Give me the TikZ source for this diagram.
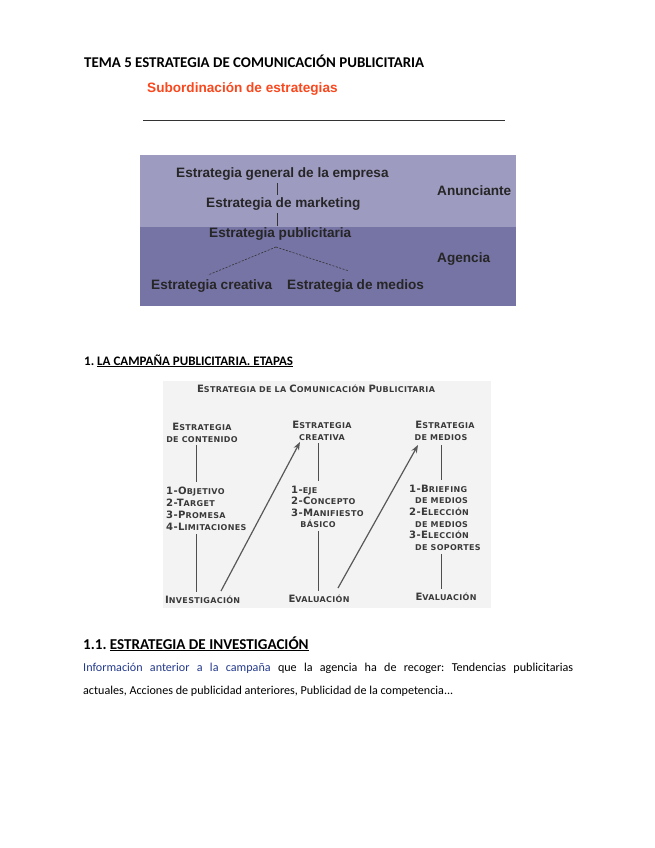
\documentclass[tikz,border=0pt]{standalone}
\usepackage{fontspec}
\setmainfont{Carlito}[BoldFont={Carlito Bold}]
\newfontfamily\arialf{Liberation Sans}[BoldFont={Liberation Sans Bold}]
\newfontfamily\scanf{DejaVu Sans Bold}[LetterSpace=4]
\usetikzlibrary{arrows.meta,calc}
\definecolor{subred}{RGB}{250,72,30}
\definecolor{infoblue}{RGB}{36,58,140}
\definecolor{purpup}{RGB}{158,155,193}
\definecolor{purplow}{RGB}{118,115,165}
\definecolor{scanbg}{RGB}{243,243,243}
\definecolor{scangray}{RGB}{58,58,58}
\newcommand\Lg[1]{{\fontsize{10.1}{11}\selectfont #1}}
\newcommand\Sm[1]{{\fontsize{8}{11}\selectfont #1}}
\frenchspacing
\tikzset{
  doc/.style={inner sep=0pt, anchor=base west},
  boxtxt/.style={inner sep=0pt, anchor=base west, font=\arialf\bfseries\fontsize{13.6}{15}\selectfont, text=black!85},
  scan/.style={inner sep=0pt, anchor=base, font=\scanf, text=scangray},
  scanw/.style={scan, anchor=base west},
  scanline/.style={draw=scangray!90, line width=1pt},
  scanarrow/.style={draw=scangray!85, line width=1.2pt, -{Stealth[length=8pt,width=6pt]}},
  tree/.style={draw=black!80, line width=0.6pt},
  treedash/.style={draw=black!80, line width=0.6pt, dash pattern=on 2pt off 1.5pt}
}
\begin{document}
\begin{tikzpicture}[x=1pt,y=-1pt]
\useasboundingbox[fill=white] (0,0) rectangle (655,848);

% ---- title
\node[doc, font=\bfseries\fontsize{14.9}{17}\selectfont] (title) at (84,68) {TEMA 5 ESTRATEGIA DE COMUNICACIÓN PUBLICITARIA};
\node[doc, font=\arialf\bfseries\fontsize{13.6}{15}\selectfont, text=subred] (sub) at (147,93) {Subordinación de estrategias};
\coordinate (rl) at (143,120);
\coordinate (rr) at (505,120);
\draw[black!80, line width=0.8pt] (rl) -- (rr);

% ---- purple box
\fill[purpup] (140,155) rectangle (516,227);
\fill[purplow] (140,227) rectangle (516,306);
\node[boxtxt] (gen) at (176,177) {Estrategia general de la empresa};
\node[boxtxt] (mkt) at (206,207) {Estrategia de marketing};
\node[boxtxt] (pub) at (209,237) {Estrategia publicitaria};
\node[boxtxt] (anun) at (437,195) {Anunciante};
\node[boxtxt] (agen) at (437,262) {Agencia};
\node[boxtxt] (crea) at (151,289) {Estrategia creativa};
\node[boxtxt] (med) at (287,289) {Estrategia de medios};
\coordinate (vx) at (277,0);
\draw[tree] ([yshift=-3pt]gen.south -| vx) -- ([yshift=2pt]mkt.north -| vx);
\draw[tree] ([yshift=-3pt]mkt.south -| vx) -- ([yshift=1pt]pub.north -| vx);
\coordinate (apex) at (276,247);
\coordinate (crtop) at (208,275);
\coordinate (mdtop) at (349,271);
\draw[treedash] (apex) -- (crtop);
\draw[treedash] (apex) -- (mdtop);

% ---- section 1
\node[doc, font=\bfseries\fontsize{13}{15}\selectfont] (sec1) at (84,365) {1. \underline{LA CAMPAÑA PUBLICITARIA. ETAPAS}};

% ---- scanned diagram
\fill[scanbg] (163,381) rectangle (491,608);
\node[scan] (stit) at (316,392) {\Lg{E}\Sm{STRATEGIA DE LA }\Lg{C}\Sm{OMUNICACIÓN }\Lg{P}\Sm{UBLICITARIA}};

% column 1
\node[scan] (c1a) at (202,430) {\Lg{E}\Sm{STRATEGIA}};
\node[scan] (c1b) at (202,442) {\Sm{DE CONTENIDO}};
\node[scanw] (c1l1) at (166,494) {\Lg{1-O}\Sm{BJETIVO}};
\node[scanw] (c1l2) at (166,506) {\Lg{2-T}\Sm{ARGET}};
\node[scanw] (c1l3) at (166,518) {\Lg{3-P}\Sm{ROMESA}};
\node[scanw] (c1l4) at (166,530) {\Lg{4-L}\Sm{IMITACIONES}};
\node[scanw] (c1e) at (165,603) {\Lg{I}\Sm{NVESTIGACIÓN}};
\coordinate (c1x) at (196,0);
\draw[scanline] ([yshift=-3pt]c1b.south -| c1x) -- ([yshift=4pt]c1l1.north -| c1x);
\draw[scanline] ([yshift=-4pt]c1l4.south -| c1x) -- ([yshift=3pt]c1e.north -| c1x);

% column 2
\node[scan] (c2a) at (322,428) {\Lg{E}\Sm{STRATEGIA}};
\node[scan] (c2b) at (322,440) {\Sm{CREATIVA}};
\node[scanw] (c2l1) at (291,493) {\Lg{1-}\Sm{EJE}};
\node[scanw] (c2l2) at (291,504) {\Lg{2-C}\Sm{ONCEPTO}};
\node[scanw] (c2l3) at (291,516) {\Lg{3-M}\Sm{ANIFIESTO}};
\node[scan] (c2l4) at (318,527) {\Sm{BÁSICO}};
\node[scan] (c2e) at (319,602) {\Lg{E}\Sm{VALUACIÓN}};
\coordinate (c2x) at (318.5,0);
\draw[scanline] ([yshift=-3pt]c2b.south -| c2x) -- ([yshift=4pt]c2l1.north -| c2x);
\draw[scanline] ([yshift=-4pt]c2l4.south -| c2x) -- ([yshift=3pt]c2e.north -| c2x);

% column 3
\node[scan] (c3a) at (445,428) {\Lg{E}\Sm{STRATEGIA}};
\node[scan] (c3b) at (441,440) {\Sm{DE MEDIOS}};
\node[scanw] (c3l1) at (409,492) {\Lg{1-B}\Sm{RIEFING}};
\node[scanw] (c3l2) at (415,503) {\Sm{DE MEDIOS}};
\node[scanw] (c3l3) at (409,515) {\Lg{2-E}\Sm{LECCIÓN}};
\node[scanw] (c3l4) at (415,527) {\Sm{DE MEDIOS}};
\node[scanw] (c3l5) at (409,538) {\Lg{3-E}\Sm{LECCIÓN}};
\node[scanw] (c3l6) at (415,550) {\Sm{DE SOPORTES}};
\node[scan] (c3e) at (446,600) {\Lg{E}\Sm{VALUACIÓN}};
\coordinate (c3x) at (441,0);
\draw[scanline] ([yshift=-5pt]c3b.south -| c3x) -- ([yshift=4pt]c3l1.north -| c3x);
\draw[scanline] ([yshift=-4pt]c3l6.south -| c3x) -- ([yshift=3pt]c3e.north -| c3x);

% arrows
\coordinate (a1s) at (221,591);
\coordinate (a1e) at (300,442);
\coordinate (a2s) at (338,588);
\coordinate (a2e) at (418,445);
\draw[scanarrow] (a1s) -- (a1e);
\draw[scanarrow] (a2s) -- (a2e);

% ---- section 1.1
\node[doc, font=\bfseries\fontsize{15.1}{17}\selectfont] (sec11) at (83,649) {1.1. \underline{ESTRATEGIA DE INVESTIGACIÓN}};
\node[doc, font=\fontsize{12.1}{14}\selectfont] (para) at (83,671) {\parbox[t]{490pt}{\baselineskip=23.3pt \textcolor{infoblue}{Información anterior a la campaña} que la agencia ha de recoger: Tendencias publicitarias\linebreak actuales, Acciones de publicidad anteriores, Publicidad de la competencia...}};
\end{tikzpicture}
\end{document}
